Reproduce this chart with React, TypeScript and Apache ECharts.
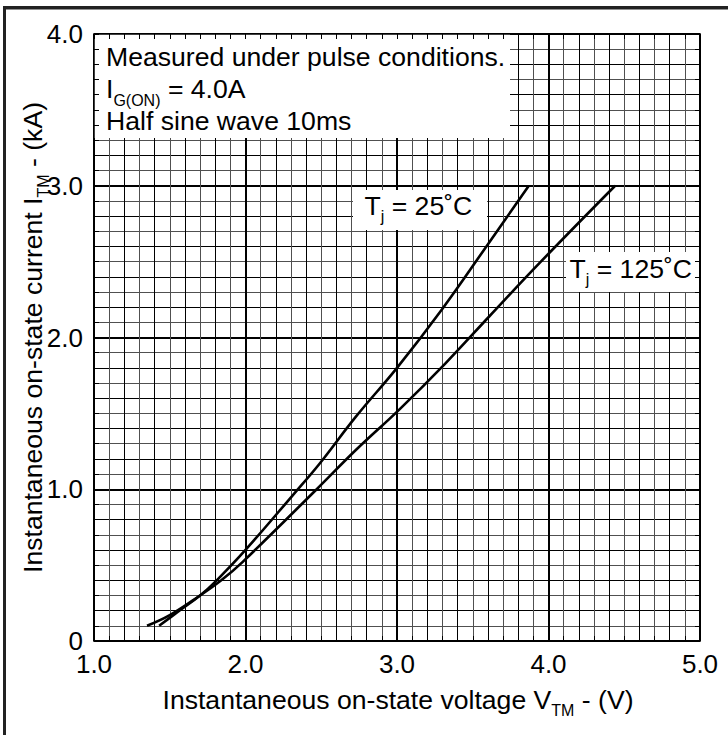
import React, { useEffect, useRef } from 'react';
import * as echarts from 'echarts';

// ---- data ----
const xTickLabels = ['1.0', '2.0', '3.0', '4.0', '5.0'];
const yTickLabels = ['0', '1.0', '2.0', '3.0', '4.0'];

// Tj = 25 °C  (V, kA)
const v25 = [1.43, 1.55, 1.70, 1.81, 2.00, 2.32, 2.49, 2.73, 3.00, 3.30, 3.59, 3.87];
const i25 = [0.10, 0.19, 0.30, 0.40, 0.60, 0.97, 1.17, 1.48, 1.80, 2.19, 2.60, 3.00];

// Tj = 125 °C (V, kA)
const v125 = [1.35, 1.50, 1.70, 1.84, 1.98, 2.47, 2.73, 3.02, 3.32, 3.61, 3.94, 4.44];
const i125 = [0.10, 0.17, 0.30, 0.40, 0.52, 1.00, 1.26, 1.53, 1.83, 2.14, 2.49, 3.00];

const noteLine1 = 'Measured under pulse conditions.';
const noteLine2 = ['I', 'G(ON)', ' = 4.0A'];
const noteLine3 = 'Half sine wave 10ms';
const label25 = ['T', 'j', ' = 25˚C'];
const label125 = ['T', 'j', ' = 125˚C'];
const xTitle = ['Instantaneous on-state voltage V', 'TM', ' - (V)'];
const yTitle = ['Instantaneous on-state current I', 'TM', ' - (kA)'];

// ---- styling ----
const FONT = '"Liberation Sans", Arial, Helvetica, sans-serif';
const MAIN = 26.6;
const TICK = 26;
const SUB = 16;
const SUB_DY = 7;
const GRID = { left: 94, top: 34, width: 606, height: 607 };

let measureCtx: CanvasRenderingContext2D | null = null;
function tw(text: string, size: number) {
  if (!measureCtx) measureCtx = document.createElement('canvas').getContext('2d');
  measureCtx!.font = `${size}px ${FONT}`;
  return measureCtx!.measureText(text).width;
}

type Seg = { t: string; size: number; dy: number };
function segLine(segs: Seg[], x0: number, baseline: number, align: 'left' | 'center') {
  const widths = segs.map((s) => tw(s.t, s.size));
  const total = widths.reduce((a, b) => a + b, 0);
  let x = align === 'center' ? x0 - total / 2 : x0;
  return segs.map((s, k) => {
    const el = {
      type: 'text',
      x,
      y: baseline + s.dy - 0.3465 * s.size,
      z: 30,
      style: {
        text: s.t,
        fontSize: s.size,
        fontFamily: FONT,
        fill: '#000',
        align: 'left',
        verticalAlign: 'middle',
        textAlign: 'left',
        textVerticalAlign: 'middle',
      },
    };
    x += widths[k];
    return el;
  });
}
function withSub(parts: string[], dy = SUB_DY): Seg[] {
  return [
    { t: parts[0], size: MAIN, dy: 0 },
    { t: parts[1], size: SUB, dy },
    { t: parts[2], size: MAIN, dy: 0 },
  ];
}

function alternating(n: number) {
  const c: string[] = [];
  for (let k = 0; k < n; k++) c.push(k % 2 === 0 ? '#000' : '#505050');
  return c;
}

function buildOption() {
  const xFmt = (v: number) => xTickLabels[Math.round(v - 1)] ?? '';
  const yFmt = (v: number) => yTickLabels[Math.round(v)] ?? '';
  const xb = { type: 'value', min: 1, max: 5, gridIndex: 0 };
  const yb = { type: 'value', min: 0, max: 4, gridIndex: 0 };
  const noLine = { show: false, onZero: false };
  const frameLine = { show: true, onZero: false, lineStyle: { color: '#000', width: 1.5 } };
  const tick = { show: true, inside: true, length: 5, lineStyle: { color: '#000', width: 1 } };
  const minor = { show: true, splitNumber: 10, length: 5, lineStyle: { color: '#000', width: 1 } };
  const lbl = { fontSize: TICK, fontFamily: FONT, color: '#000' };

  const graphics: any[] = [
    // outer frame (left + top)
    { type: 'rect', shape: { x: 3, y: 6, width: 725, height: 3.5 }, style: { fill: '#222' }, z: 40 },
    { type: 'rect', shape: { x: 3, y: 6, width: 3, height: 729 }, style: { fill: '#222' }, z: 40 },
    // white backgrounds of annotations
    { type: 'rect', shape: { x: 94, y: 34, width: 416, height: 104 }, style: { fill: '#fff' }, z: 5 },
    { type: 'rect', shape: { x: 353, y: 190, width: 134, height: 40 }, style: { fill: '#fff' }, z: 5 },
    { type: 'rect', shape: { x: 566, y: 252, width: 132, height: 40 }, style: { fill: '#fff' }, z: 5 },
    ...segLine([{ t: noteLine1, size: MAIN, dy: 0 }], 106, 66.5, 'left'),
    ...segLine(withSub(noteLine2, 8), 106, 98.3, 'left'),
    ...segLine([{ t: noteLine3, size: MAIN, dy: 0 }], 106, 130, 'left'),
    ...segLine(withSub(label25), 364.5, 215, 'left'),
    ...segLine(withSub(label125), 569.5, 278, 'left'),
    ...segLine(withSub(xTitle), 398, 709, 'center'),
    {
      type: 'group',
      x: 42,
      y: 337.5,
      rotation: Math.PI / 2,
      children: segLine(withSub(yTitle), 0, 0, 'center'),
    },
  ];

  return {
    animation: false,
    backgroundColor: '#fff',
    textStyle: { fontFamily: FONT },
    grid: { ...GRID, containLabel: false },
    xAxis: [
      { ...xb, interval: 0.1, axisLine: noLine, axisTick: { show: false }, axisLabel: { show: false },
        splitLine: { show: true, lineStyle: { color: alternating(41), width: 1 } }, z: 0 },
      { ...xb, interval: 1, axisLine: noLine, axisTick: { show: false }, axisLabel: { show: false },
        splitLine: { show: true, lineStyle: { color: '#000', width: 2 } }, z: 0 },
      { ...xb, interval: 1, position: 'bottom', axisLine: frameLine, axisTick: tick, minorTick: minor,
        axisLabel: { ...lbl, margin: 10, formatter: xFmt }, splitLine: { show: false }, z: 10 },
      { ...xb, interval: 1, position: 'top', axisLine: frameLine, axisTick: tick, minorTick: minor,
        axisLabel: { show: false }, splitLine: { show: false }, z: 10 },
    ],
    yAxis: [
      { ...yb, interval: 0.1, axisLine: noLine, axisTick: { show: false }, axisLabel: { show: false },
        splitLine: { show: true, lineStyle: { color: alternating(41), width: 1 } }, z: 0 },
      { ...yb, interval: 1, axisLine: noLine, axisTick: { show: false }, axisLabel: { show: false },
        splitLine: { show: true, lineStyle: { color: '#000', width: 2 } }, z: 0 },
      { ...yb, interval: 1, position: 'left', axisLine: frameLine, axisTick: tick, minorTick: minor,
        axisLabel: { ...lbl, margin: 11, formatter: yFmt }, splitLine: { show: false }, z: 10 },
      { ...yb, interval: 1, position: 'right', axisLine: frameLine, axisTick: tick, minorTick: minor,
        axisLabel: { show: false }, splitLine: { show: false }, z: 10 },
    ],
    series: [
      {
        name: 'Tj = 25°C',
        type: 'line',
        xAxisIndex: 0,
        yAxisIndex: 0,
        data: v25.map((v, k) => [v, i25[k]]),
        smooth: 0.4,
        symbol: 'none',
        lineStyle: { color: '#000', width: 2.6 },
        z: 3,
      },
      {
        name: 'Tj = 125°C',
        type: 'line',
        xAxisIndex: 0,
        yAxisIndex: 0,
        data: v125.map((v, k) => [v, i125[k]]),
        smooth: 0.4,
        symbol: 'none',
        lineStyle: { color: '#000', width: 2.6 },
        z: 3,
      },
    ],
    graphic: { elements: graphics },
  };
}

export default function App() {
  const ref = useRef<HTMLDivElement>(null);
  useEffect(() => {
    const chart = echarts.init(ref.current!, null, { renderer: 'svg' });
    chart.setOption(buildOption() as any);
    return () => chart.dispose();
  }, []);
  return (
    <div
      ref={ref}
      style={{ position: 'fixed', left: 0, top: 0, width: 728, height: 735, background: '#fff' }}
    />
  );
}
